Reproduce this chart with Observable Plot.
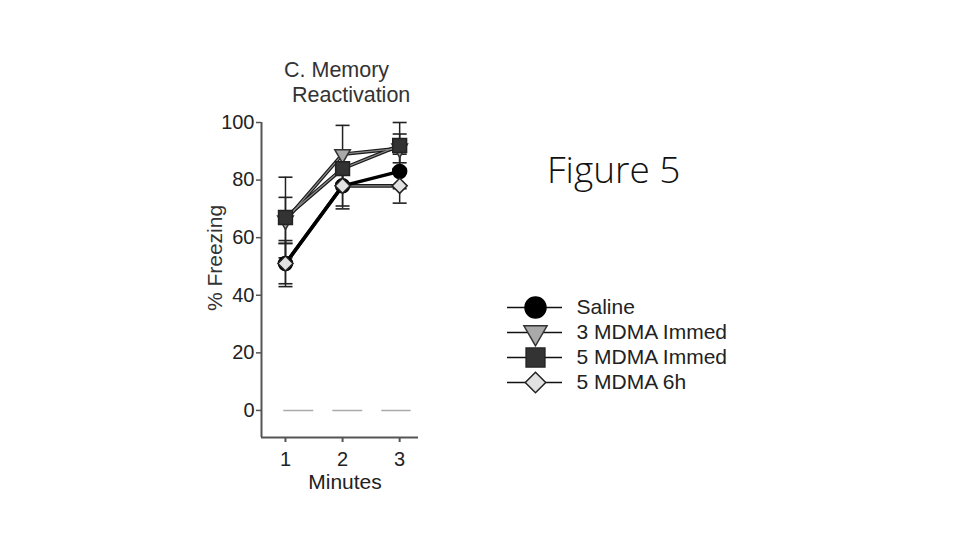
<!DOCTYPE html>
<html><head><meta charset="utf-8">
<script src="https://cdn.jsdelivr.net/npm/d3@7"></script>
<script src="https://cdn.jsdelivr.net/npm/@observablehq/plot@0.6"></script>
<style>
html,body{margin:0;padding:0;background:#fff;width:960px;height:540px;overflow:hidden}
#wrap{position:relative;width:960px;height:540px}
#wrap > *{position:absolute}
</style></head><body><div id="wrap"></div>
<script>
// ---- data ----
const minutes = [1, 2, 3];
const seriesNames = ["Saline", "3 MDMA Immed", "5 MDMA Immed", "5 MDMA 6h"];
const saline = [51, 78, 83];
const salineErr = [7, 7, 6];
const mdma3 = [66, 89, 91];
const mdma3Err = [8, 10, 5];
const mdma5 = [67, 84, 92];
const mdma5Err = [14, 6, 8];
const mdma6h = [51, 78, 78];
const mdma6hErr = [8, 8, 6];
const yTicks = [0, 20, 40, 60, 80, 100];
const xTicks = [1, 2, 3];
const titleLines = ["C. Memory", "Reactivation"];
const xLabel = "Minutes";
const yLabel = "% Freezing";
const figLabel = "Figure 5";

const valuesBySeries = {"Saline": [saline, salineErr], "3 MDMA Immed": [mdma3, mdma3Err], "5 MDMA Immed": [mdma5, mdma5Err], "5 MDMA 6h": [mdma6h, mdma6hErr]};
const rows = seriesNames.flatMap(s => minutes.map((m, i) => ({series: s, minute: m, value: valuesBySeries[s][0][i], err: valuesBySeries[s][1][i]})));

const styles = {
  "Saline":       {symbol: "circle",   rotate: 0,   fill: "#000",    stroke: "#000", r: 7,   lr: 10.5},
  "3 MDMA Immed": {symbol: "triangle", rotate: 180, fill: "#a9a9a9", stroke: "#333", r: 5.8, lr: 8.6},
  "5 MDMA Immed": {symbol: "square",   rotate: 0,   fill: "#333",    stroke: "#222", r: 7.8, lr: 10.6},
  "5 MDMA 6h":    {symbol: "diamond2", rotate: 0,   fill: "#e2e2e2", stroke: "#222", r: 6.8, lr: 9.2}
};
const drawOrder = ["3 MDMA Immed", "5 MDMA Immed", "Saline", "5 MDMA 6h"];
const lineOrder = ["3 MDMA Immed", "5 MDMA Immed", "5 MDMA 6h"];

const capSymbol = {draw(ctx, size) { const r = Math.sqrt(size / Math.PI); ctx.moveTo(-r, 0); ctx.lineTo(r, 0); }};
const xDomain = [0.58, 3.33];
const yDomain = [-9.4, 100];
const font = "'Liberation Sans', Arial, Helvetica, sans-serif";

const caps = rows.flatMap(d => [{minute: d.minute, v: d.value + d.err}, {minute: d.minute, v: d.value - d.err}]);
const ofSeries = s => rows.filter(d => d.series === s);

const main = Plot.plot({
  width: 960, height: 540,
  marginLeft: 261, marginRight: 542, marginTop: 122, marginBottom: 103,
  x: {domain: xDomain},
  y: {domain: yDomain},
  style: {fontFamily: font, fontSize: "20px", color: "#333", background: "transparent"},
  marks: [
    Plot.ruleY([0], {x1: minutes[0] - 0.03, x2: 3.2, stroke: "#aaa", strokeWidth: 1.5, strokeDasharray: "30,19"}),
    Plot.ruleX([xDomain[0]], {y1: yDomain[0], y2: yDomain[1], stroke: "#555", strokeWidth: 2}),
    Plot.ruleY([yDomain[0]], {x1: xDomain[0], x2: xDomain[1], stroke: "#555", strokeWidth: 2}),
    Plot.axisY({ticks: yTicks, tickSize: 5, tickPadding: 2, label: null, strokeWidth: 1.5, stroke: "#555", fill: "#222"}),
    Plot.axisX({ticks: xTicks, tickSize: 5, tickPadding: 9, label: null, tickFormat: d => d, strokeWidth: 2, stroke: "#555", fill: "#222"}),
    ...lineOrder.map(s => Plot.line(ofSeries(s), {x: "minute", y: "value", stroke: "#1a1a1a", strokeWidth: 3.6})),
    ...lineOrder.map(s => Plot.line(ofSeries(s), {x: "minute", y: "value", stroke: "#8a8a8a", strokeWidth: 1.2})),
    Plot.line(ofSeries("Saline"), {x: "minute", y: "value", stroke: "#000", strokeWidth: 3.4}),
    Plot.ruleX(rows, {x: "minute", y1: d => d.value - d.err, y2: d => d.value + d.err, stroke: "#222", strokeWidth: 1.5}),
    Plot.dot(caps, {x: "minute", y: "v", symbol: capSymbol, r: 7, fill: "none", stroke: "#222", strokeWidth: 1.6}),
    ...drawOrder.map(s => Plot.dot(ofSeries(s), {x: "minute", y: "value", symbol: styles[s].symbol, rotate: styles[s].rotate, r: styles[s].r, fill: styles[s].fill, stroke: styles[s].stroke, strokeWidth: 1.5}))
  ]
});
main.style.left = "0px"; main.style.top = "0px";
document.getElementById("wrap").appendChild(main);

const legend = Plot.plot({
  width: 260, height: 110,
  marginLeft: 0, marginRight: 0, marginTop: 16, marginBottom: 18,
  x: {domain: [0, 260], axis: null},
  y: {type: "point", domain: seriesNames, padding: 0, axis: null},
  style: {fontFamily: font, fontSize: "21px", color: "#222", background: "transparent"},
  marks: [
    Plot.ruleY(seriesNames, {y: d => d, x1: 12, x2: 67, stroke: "#111", strokeWidth: 1.6}),
    ...seriesNames.map(s => Plot.dot([s], {x: 40, y: d => d, symbol: styles[s].symbol, rotate: styles[s].rotate, r: styles[s].lr, fill: styles[s].fill, stroke: styles[s].stroke, strokeWidth: 1.5})),
    Plot.text(seriesNames, {x: 81, y: d => d, text: d => d, textAnchor: "start", fill: "#222", fontSize: 21})
  ]
});
legend.style.left = "495px"; legend.style.top = "290px";
document.getElementById("wrap").appendChild(legend);

// overlay text
const svg = d3.select("#wrap").append("svg").attr("width", 960).attr("height", 540)
  .style("left", "0px").style("top", "0px").style("pointer-events", "none");
svg.append("text").attr("x", 284).attr("y", 77).text(titleLines[0])
  .attr("font-family", font).attr("font-size", 21.5).attr("fill", "#333");
svg.append("text").attr("x", 292).attr("y", 102).text(titleLines[1])
  .attr("font-family", font).attr("font-size", 21.5).attr("fill", "#333");
svg.append("text").attr("x", 345).attr("y", 489).attr("text-anchor", "middle").text(xLabel)
  .attr("font-family", font).attr("font-size", 21).attr("fill", "#222");
svg.append("text").attr("transform", "translate(222,258) rotate(-90)").attr("text-anchor", "middle").text(yLabel)
  .attr("font-family", font).attr("font-size", 21).attr("fill", "#333");
svg.append("text").attr("x", 547).attr("y", 183).text(figLabel)
  .attr("font-family", "'Open Sans', sans-serif").attr("font-weight", 300).attr("font-size", 37).attr("fill", "#111");
</script></body></html>
